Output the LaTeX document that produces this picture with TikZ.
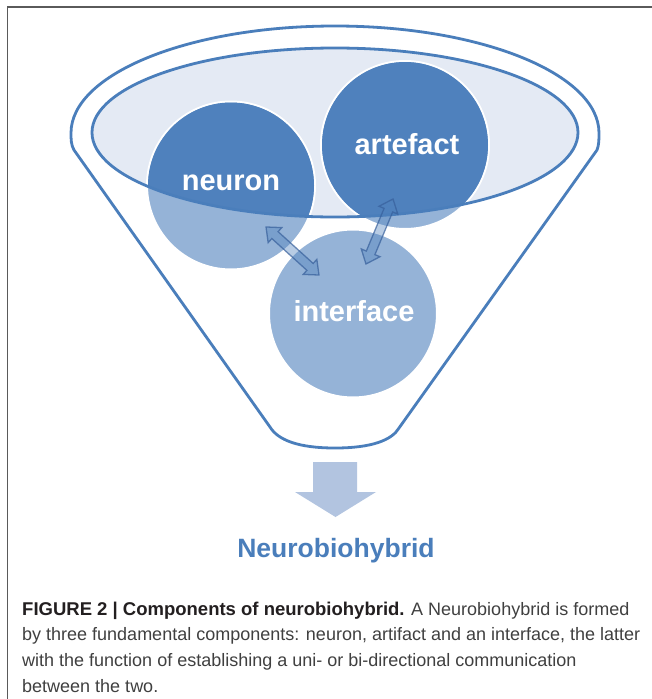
\documentclass[tikz,border=0pt]{standalone}
\usepackage{fontspec}
\setmainfont{Liberation Sans}
\usetikzlibrary{shapes.arrows}
\definecolor{fblue}{RGB}{74,126,187}
\definecolor{cdark}{RGB}{79,129,189}
\definecolor{clight}{RGB}{149,179,215}
\definecolor{efill}{RGB}{228,234,244}
\definecolor{bigarrow}{RGB}{178,196,224}
\definecolor{framegray}{RGB}{90,90,90}
\definecolor{capbold}{RGB}{35,31,32}
\definecolor{captext}{RGB}{64,64,64}
\definecolor{arrline}{RGB}{55,95,155}
\begin{document}
\begin{tikzpicture}[x=1pt,y=-1pt,
  funnel/.style={draw=fblue,line width=2.8pt,line join=round},
  ball/.style={circle,minimum size=168pt,inner sep=0pt,draw=white,line width=2pt},
  lbl/.style={text=white,font=\fontsize{29}{34}\selectfont\bfseries,anchor=base,inner sep=0pt},
  link/.style={double arrow,fill=cdark,fill opacity=0.4,draw=arrline,draw opacity=0.7,line width=1.3pt,inner sep=4pt,double arrow head extend=5.5pt,double arrow tip angle=80,minimum width=19pt},
  capline/.style={anchor=base west,inner sep=0pt,font=\fontsize{18}{22}\selectfont,text=captext}
]
\useasboundingbox (0,0) rectangle (652,699);
\fill[white] (0,0) rectangle (652,699);
\draw[framegray,line width=1.5pt] (7.5,699) -- (7.5,7) -- (652,7);

% outer funnel
\draw[funnel,fill=white] (270,427) -- (74,150) .. controls (71,145) and (71,139) .. (71,133)
  arc[start angle=180,end angle=0,x radius=264pt,y radius=107pt]
  .. controls (599,139) and (599,145) .. (597,150) -- (399,428)
  .. controls (392,440) and (372,448) .. (335,448)
  .. controls (298,448) and (278,440) .. (270,427) -- cycle;

% inner ellipse fill
\fill[efill] (335,132.5) ellipse[x radius=243pt,y radius=84.5pt];

% circles
\node[ball,fill=clight] (neuron) at (231,185.5) {};
\node[ball,fill=clight] (artefact) at (405,145) {};
\node[ball,fill=clight] (interface) at (353,313.5) {};

\begin{scope}
  \clip (335,132.5) ellipse[x radius=243pt,y radius=84.5pt];
  \fill[cdark] (neuron.center) circle[radius=83pt];
  \fill[cdark] (artefact.center) circle[radius=83pt];
\end{scope}

% inner ellipse outline
\draw[funnel] (335,132.5) ellipse[x radius=243pt,y radius=84.5pt];

% labels
\node[lbl] (tneuron) at (231,190) {neuron};
\node[lbl] (tartefact) at (407,154) {artefact};
\node[lbl] (tinterface) at (354,321.7) {interface};

% links
\node[link,minimum height=71.5pt,rotate=-42.2] (ln) at (292.5,251) {};
\node[link,minimum height=70.4pt,rotate=67.4] (la) at (379.5,231.5) {};

% big arrow
\fill[bigarrow] (313,462) -- (357,462) -- (357,492) -- (376,492) -- (335.5,517) -- (295,492) -- (313,492) -- cycle;

\node[anchor=base,inner sep=0pt,text=fblue,font=\fontsize{26.5}{30}\selectfont\bfseries] (result) at (336,557) {Neurobiohybrid};

% caption
\node[capline] (cap1) at (22,615) {{\fontsize{18.5}{22}\selectfont\bfseries\color{capbold}FIGURE 2 | Components of neurobiohybrid.} A Neurobiohybrid is formed};
\node[capline] (cap2) at (22,640.8) {by three fundamental components: neuron, artifact and an interface, the latter};
\node[capline] (cap3) at (22,666.6) {with the function of establishing a uni- or bi-directional communication};
\node[capline] (cap4) at (22,692.4) {between the two.};
\end{tikzpicture}
\end{document}
